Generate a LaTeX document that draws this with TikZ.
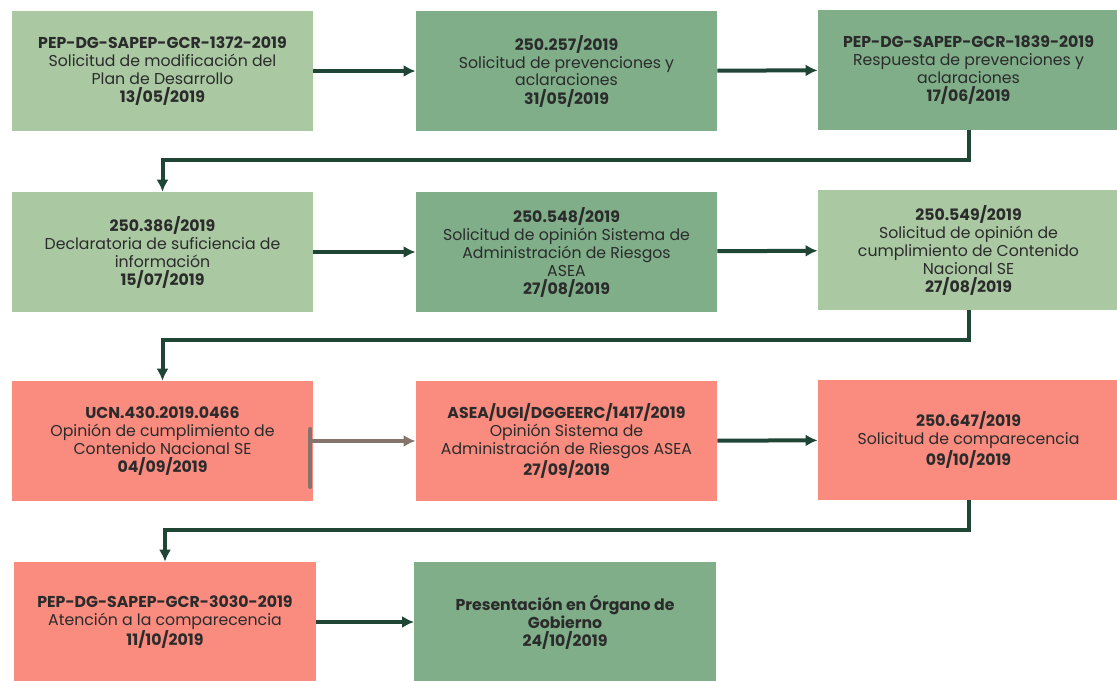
\documentclass[tikz,border=0pt]{standalone}
\usepackage{fontspec}
\setmainfont{Poppins}
\usetikzlibrary{arrows.meta,calc}
\definecolor{verdeclaro}{HTML}{AAC9A3}
\definecolor{verdeoscuro}{HTML}{7FAE89}
\definecolor{salmon}{HTML}{F98B7F}
\definecolor{verdeflecha}{HTML}{1F4535}
\definecolor{grisflecha}{HTML}{85746C}
\definecolor{texto}{HTML}{2B2B2B}
\begin{document}
\begin{tikzpicture}[x=0.75pt,y=-0.75pt,
boxnode/.style={rectangle, minimum width=226pt, minimum height=90pt, inner sep=2pt, align=center, text=texto, font=\fontsize{11.8}{13.5}\selectfont},
claronode/.style={boxnode, fill=verdeclaro},
oscuronode/.style={boxnode, fill=verdeoscuro},
salmonnode/.style={boxnode, fill=salmon},
flecha/.style={line width=3pt, draw=verdeflecha, -{Latex[length=9pt,width=9pt]}},
flechagris/.style={line width=3pt, draw=grisflecha, -{Latex[length=9pt,width=9pt]}},
]
\useasboundingbox (0,0) rectangle (1117,681);
% fila 1
\node[claronode]  (pep1372) at (162.5,71) {\textbf{PEP-DG-SAPEP-GCR-1372-2019}\\Solicitud de modificación del\\Plan de Desarrollo\\\textbf{13/05/2019}};
\node[oscuronode] (of257)   at (566.5,71) {\textbf{250.257/2019}\\Solicitud de prevenciones y\\aclaraciones\\\textbf{31/05/2019}};
\node[oscuronode] (pep1839) at (968.5,70) {\textbf{PEP-DG-SAPEP-GCR-1839-2019}\\Respuesta de prevenciones y\\aclaraciones\\\textbf{17/06/2019}};
% fila 2
\node[claronode]  (of386)   at (162.5,252) {\textbf{250.386/2019}\\Declaratoria de suficiencia de\\información\\\textbf{15/07/2019}};
\node[oscuronode] (of548)   at (566.5,252) {\textbf{250.548/2019}\\Solicitud de opinión Sistema de\\Administración de Riesgos\\ASEA\\\textbf{27/08/2019}};
\node[claronode]  (of549)   at (968.5,250) {\textbf{250.549/2019}\\Solicitud de opinión de\\cumplimiento de Contenido\\Nacional SE\\\textbf{27/08/2019}};
% fila 3
\node[salmonnode] (ucn0466) at (162.5,441) {\textbf{UCN.430.2019.0466}\\Opinión de cumplimiento de\\Contenido Nacional SE\\\textbf{04/09/2019}};
\node[salmonnode] (asea1417) at (566.5,441) {\textbf{ASEA/UGI/DGGEERC/1417/2019}\\Opinión Sistema de\\Administración de Riesgos ASEA\\\textbf{27/09/2019}};
\node[salmonnode] (of647)   at (968.5,440) {\textbf{250.647/2019}\\Solicitud de comparecencia\\\textbf{09/10/2019}};
% fila 4
\node[salmonnode] (pep3030) at (165,622) {\textbf{PEP-DG-SAPEP-GCR-3030-2019}\\Atención a la comparecencia\\\textbf{11/10/2019}};
\node[oscuronode] (organo)  at (565,622) {\textbf{Presentación en Órgano de}\\\textbf{Gobierno}\\\textbf{24/10/2019}};
% conectores
\draw[flecha] (pep1372) -- (of257);
\draw[flecha] (of257) -- (pep1839);
\draw[flecha] (pep1839.south) -- ++(0,30) -| (of386.north);
\draw[flecha] (of386) -- (of548);
\draw[flecha] (of548) -- (of549);
\draw[flecha] (of549.south) -- ++(0,30) -| (ucn0466.north);
\coordinate (barra) at ($(ucn0466.east)+(-3,0)$);
\draw[grisflecha, line width=3pt, line cap=round] ($(barra)+(0,-12)$) -- ($(barra)+(0,46)$);
\draw[flechagris] (barra) -- (asea1417);
\draw[flecha] (asea1417) -- (of647);
\draw[flecha] (of647.south) -- ++(0,30) -| (pep3030.north);
\draw[flecha] (pep3030) -- (organo);
\end{tikzpicture}
\end{document}
